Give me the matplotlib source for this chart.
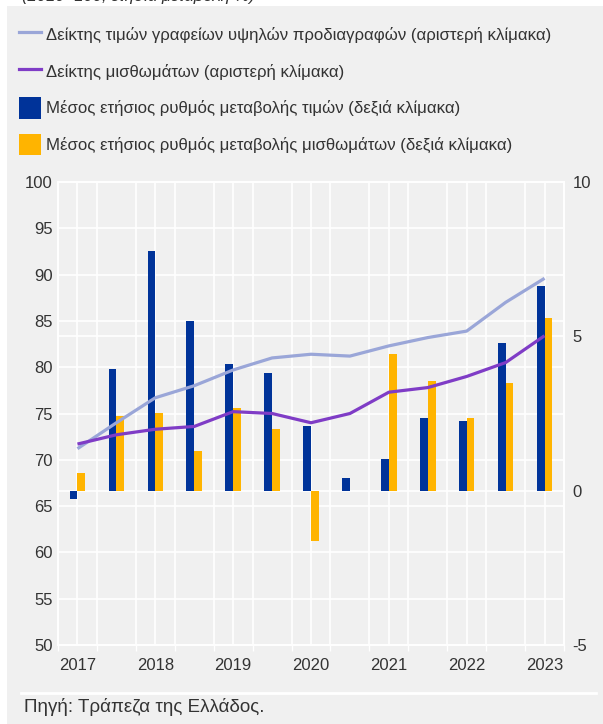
import numpy as np
import matplotlib
matplotlib.use("Agg")
from matplotlib import pyplot as plt
from matplotlib.patches import Rectangle, Patch
from matplotlib.lines import Line2D
from matplotlib.ticker import FixedLocator, NullFormatter

plt.rcParams['font.family'] = ['Liberation Sans', 'DejaVu Sans']
plt.rcParams['axes.unicode_minus'] = False

# εξάμηνα 2017Α - 2023Α
periods = ['2017H1', '2017H2', '2018H1', '2018H2', '2019H1', '2019H2', '2020H1',
           '2020H2', '2021H1', '2021H2', '2022H1', '2022H2', '2023H1']
year_labels = ['2017', '2018', '2019', '2020', '2021', '2022', '2023']

# αριστερή κλίμακα (δείκτες, 2010=100)
office_price_idx = [71.2, 74.0, 76.7, 78.0, 79.7, 81.0, 81.4, 81.2, 82.3, 83.2, 83.9, 87.0, 89.6]
rent_idx = [71.7, 72.7, 73.3, 73.6, 75.2, 75.0, 74.0, 75.0, 77.3, 77.8, 79.0, 80.5, 83.4]

# δεξιά κλίμακα (%)
price_growth = [-0.26, 3.95, 7.77, 5.5, 4.11, 3.82, 2.1, 0.42, 1.04, 2.36, 2.27, 4.79, 6.63]
rent_growth = [0.58, 2.43, 2.52, 1.29, 2.69, 2.0, -1.64, 0.0, 4.43, 3.56, 2.36, 3.5, 5.6]

c_lav = '#9aa6d8'
c_purple = '#7f3cc6'
c_blue = '#003399'
c_yellow = '#ffb400'
c_text = '#333333'
bg = '#f0f0f0'

W, H = 603, 724
fig = plt.figure(figsize=(W / 100, H / 100), dpi=100)
fig.patch.set_facecolor('white')
fig.add_artist(Rectangle((7 / W, 0), 1 - 7 / W, 1 - 6 / H, transform=fig.transFigure,
                         facecolor=bg, edgecolor='none', zorder=-10))

# υπότιτλος κομμένος στο πάνω μέρος
fig.text(22 / W, 1 + 4 / H, '(2010=100, ετήσια μεταβολή %)', fontsize=12, style='italic',
         color=c_text, va='center', ha='left')

x = np.arange(len(periods))

ax = fig.add_axes([58 / W, 1 - 645 / H, (564 - 58) / W, (645 - 182) / H])
ax2 = ax.twinx()
ax.set_zorder(2)
ax2.set_zorder(1)
ax.patch.set_visible(False)
ax2.patch.set_visible(False)

# στήλες (δεξιά κλίμακα)
w = 0.2
ax2.bar(x - w / 2, price_growth, width=w, color=c_blue, zorder=3)
ax2.bar(x + w / 2, rent_growth, width=w, color=c_yellow, zorder=3)

# γραμμές (αριστερή κλίμακα)
ax.plot(x, office_price_idx, color=c_lav, lw=2.3, solid_capstyle='butt')
ax.plot(x, rent_idx, color=c_purple, lw=2.3, solid_capstyle='butt')

ax.set_xlim(-0.5, len(periods) - 0.5)
ax.set_ylim(50, 100)
ax2.set_ylim(-5, 10)

left_ticks = np.arange(50, 101, 5)
ax.set_yticks(left_ticks)
ax2.set_yticks([-5, 0, 5, 10])
# πλέγμα της αριστερής κλίμακας στον δεξιό άξονα ώστε να μένει κάτω από τις στήλες
ax2.yaxis.set_minor_locator(FixedLocator(0.3 * left_ticks - 20))
ax2.yaxis.set_minor_formatter(NullFormatter())

ax.set_xticks(x[::2])
ax.set_xticklabels(year_labels)
ax.xaxis.set_minor_locator(FixedLocator(np.arange(-0.5, len(periods), 1)))
ax.tick_params(axis='x', which='major', length=0, pad=9, labelsize=12, labelcolor=c_text)
ax.tick_params(axis='x', which='minor', length=4, width=1, color='white', direction='out')
ax.tick_params(axis='y', length=0, pad=4, labelsize=12, labelcolor=c_text)

ax2.xaxis.set_visible(True)
ax2.xaxis.set_minor_locator(FixedLocator(np.arange(-0.5, len(periods), 1)))
ax2.tick_params(axis='x', which='both', length=0, labelbottom=False, labeltop=False)
ax2.tick_params(axis='y', which='major', length=0, pad=6, labelsize=12, labelcolor=c_text)
ax2.tick_params(axis='y', which='minor', length=0)
ax2.grid(True, which='both', axis='both', color='white', lw=1.2, zorder=0)
ax2.set_axisbelow(True)
ax.grid(False)

for a in (ax, ax2):
    for s in a.spines.values():
        s.set_color('white')
        s.set_linewidth(1.2)

handles = [Line2D([], [], color=c_lav, lw=2.3),
           Line2D([], [], color=c_purple, lw=2.3),
           Patch(facecolor=c_blue),
           Patch(facecolor=c_yellow)]
labels = ['Δείκτης τιμών γραφείων υψηλών προδιαγραφών (αριστερή κλίμακα)',
          'Δείκτης μισθωμάτων (αριστερή κλίμακα)',
          'Μέσος ετήσιος ρυθμός μεταβολής τιμών (δεξιά κλίμακα)',
          'Μέσος ετήσιος ρυθμός μεταβολής μισθωμάτων (δεξιά κλίμακα)']
fig.legend(handles, labels, loc='upper left', bbox_to_anchor=(19 / W, 1 - 24 / H),
           frameon=False, fontsize=12.1, borderpad=0, borderaxespad=0,
           handlelength=1.3, handleheight=1.6, handletextpad=0.3, labelspacing=0.89,
           labelcolor=c_text)

# πηγή
fig.add_artist(Line2D([21 / W, 596 / W], [1 - 693 / H, 1 - 693 / H], transform=fig.transFigure,
                      color='white', lw=2))
fig.text(24 / W, 1 - 707 / H, 'Πηγή: Τράπεζα της Ελλάδος.', fontsize=13.5, color=c_text,
         va='center', ha='left')

fig.savefig('out.png', dpi=100, facecolor=fig.get_facecolor())
